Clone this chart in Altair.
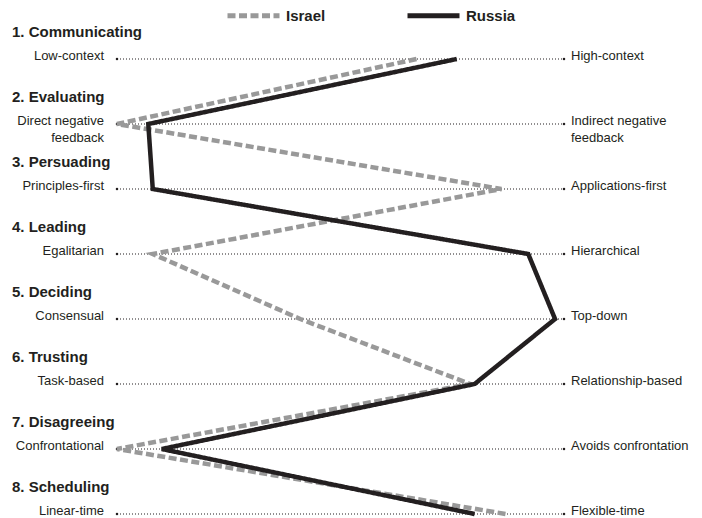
import altair as alt
import pandas as pd

# --- data ------------------------------------------------------------------
headers = ["1. Communicating", "2. Evaluating", "3. Persuading", "4. Leading",
           "5. Deciding", "6. Trusting", "7. Disagreeing", "8. Scheduling"]
left_labels = ["Low-context", "Direct negative\nfeedback", "Principles-first", "Egalitarian",
               "Consensual", "Task-based", "Confrontational", "Linear-time"]
right_labels = ["High-context", "Indirect negative\nfeedback", "Applications-first", "Hierarchical",
                "Top-down", "Relationship-based", "Avoids confrontation", "Flexible-time"]
countries = ["Israel", "Russia"]
israel = [67, 0, 86, 8, 41, 79, 0, 87]
russia = [76, 7, 8, 92, 98, 80, 10, 80]

FONT = "Liberation Sans, Arial, sans-serif"
INK = "#231f20"

rows = list(range(1, len(headers) + 1))
scales = pd.DataFrame({"row": rows, "header": headers,
                       "left": left_labels, "right": right_labels})
profiles = pd.DataFrame({
    "country": ["Israel"] * len(rows) + ["Russia"] * len(rows),
    "row": rows + rows,
    "value": israel + russia,
})

###############################################################################
x_scale = alt.Scale(domain=[0, 100], range=[109, 556])
y_scale = alt.Scale(domain=[1, 8], range=[51, 506])

y_row = alt.Y("row:Q").scale(y_scale).axis(None)
x_lo = alt.XDatum(0).scale(x_scale).axis(None)
x_hi = alt.XDatum(100).scale(x_scale).axis(None)

base = alt.Chart(scales)

dotted = base.mark_rule(strokeDash=[1, 2], strokeWidth=1.2, color=INK).encode(
    x=x_lo, x2=alt.X2Datum(100), y=y_row
)
end_lo = base.mark_square(size=5, color=INK, opacity=1).encode(x=x_lo, y=y_row)
end_hi = base.mark_square(size=5, color=INK, opacity=1).encode(x=x_hi, y=y_row)

left_text = base.mark_text(
    align="right", baseline="alphabetic", dx=-13, dy=1, font=FONT,
    fontSize=13, lineBreak="\n", lineHeight=17, color=INK
).encode(x=x_lo, y=y_row, text="left:N")

right_text = base.mark_text(
    align="left", baseline="alphabetic", dx=7, dy=1, font=FONT,
    fontSize=13, lineBreak="\n", lineHeight=17, color=INK
).encode(x=x_hi, y=y_row, text="right:N")

header_text = base.mark_text(
    align="left", baseline="middle", dy=-27, font=FONT,
    fontSize=15, fontWeight="bold", color=INK
).encode(x=alt.value(4), y=y_row, text="header:N")

legend = alt.Legend(
    title=None, orient="none", legendX=217, legendY=-21, direction="horizontal",
    symbolType="stroke", symbolSize=2704, symbolStrokeWidth=5,
    labelFont=FONT, labelFontSize=15, labelFontWeight="bold", labelColor=INK,
    labelOffset=4, columnPadding=71, padding=0
)

lines = alt.Chart(profiles).mark_line(strokeWidth=4.5, strokeJoin="miter").encode(
    x=alt.X("value:Q").scale(x_scale).axis(None),
    y=y_row,
    color=alt.Color("country:N").scale(domain=countries, range=["#999999", INK]).legend(legend),
    strokeDash=alt.StrokeDash("country:N").scale(domain=countries, range=[[8, 3.5], [1, 0]]).legend(legend),
    order="row:Q",
)

chart = (dotted + end_lo + end_hi + left_text + right_text + header_text + lines).properties(
    width=686, height=510, padding=0, autosize="none"
).configure_view(stroke=None)

chart.save("out.html", embed_options={"renderer": "svg", "actions": False})
